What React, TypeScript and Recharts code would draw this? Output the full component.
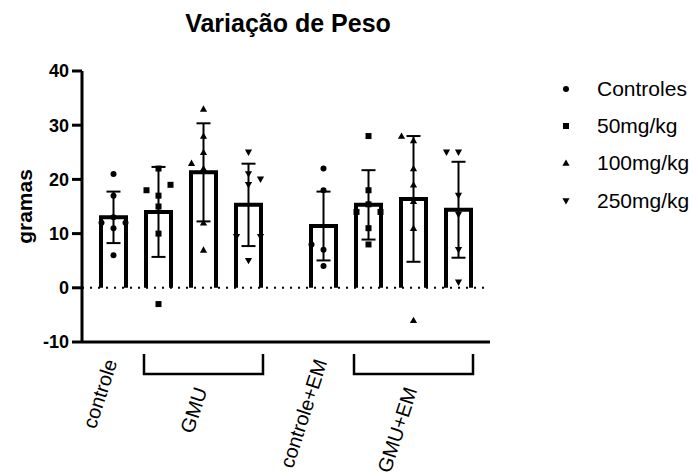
import React from 'react';
import {
  ComposedChart,
  Bar,
  Scatter,
  XAxis,
  YAxis,
  ErrorBar,
  ReferenceLine,
  Legend,
} from 'recharts';

// ---------- data ----------
const seriesNames = ['Controles', '50mg/kg', '100mg/kg', '250mg/kg'];
const groupLabels = ['controle', 'GMU', 'controle+EM', 'GMU+EM'];
const groupFirstBar = [0, 1, 4, 5];
const groupLastBar = [0, 3, 4, 7];

const barPositions = [0, 1, 2, 3, 4.667, 5.667, 6.667, 7.667];
const barSeries = [0, 1, 2, 3, 0, 1, 2, 3];
const barMeans = [13.0, 14.0, 21.3, 15.3, 11.4, 15.3, 16.4, 14.4];
const barSD = [4.75, 8.3, 9.05, 7.6, 6.35, 6.4, 11.6, 8.85];

// individual points per bar (values) and their side-by-side lane (-1 left, 0 centre, 1 right)
const pointValues = [
  [21, 17, 13, 12, 12, 11, 6],
  [22, 18, 19, 17, 15, 10, -3],
  [33, 28, 25, 23, 22, 12, 7],
  [25, 21, 20, 19, 9.4, 9.4, 5],
  [22, 18, 8, 7, 4],
  [28, 18, 15.4, 14, 14, 11, 8],
  [28, 27.2, 22, 19, 16, 11, -6],
  [25, 25, 17, 13.5, 7, 1],
];
const pointLanes = [
  [0, 0, 0, -1, 1, 0, 0],
  [0, -1, 1, 0, 0, 0, 0],
  [0, 0, 0, -1, 0, 0, 0],
  [0, 0, 1, 0, -1, 1, 0],
  [0, 0, -1, 0, 0],
  [0, 0, 0, -1, 1, 0, 0],
  [-1, 0, 0, 0, 0, 0, 0],
  [-1, 0, 0, 0, 0, 0],
];

const yTicks = [-10, 0, 10, 20, 30, 40];

// ---------- layout / style ----------
const W = 697;
const H = 473;
const M_TOP = 71;
const M_RIGHT = 207;
const Y_AXIS_W = 82;
const X_DOMAIN: [number, number] = [-0.7, 8.367];
const BAR_W = 25;
const LANE_PX = 12;
const FONT = '"Liberation Sans", Arial, Helvetica, sans-serif';

const barData = barPositions.map((pos, i) => ({
  pos,
  mean: barMeans[i],
  sd: barSD[i],
}));

const scatterData = seriesNames.map((_, s) => {
  const pts: { pos: number; value: number; lane: number }[] = [];
  barSeries.forEach((ser, b) => {
    if (ser !== s) return;
    pointValues[b].forEach((v, k) => {
      pts.push({ pos: barPositions[b], value: v, lane: pointLanes[b][k] });
    });
  });
  return pts;
});

const groupCenters = groupFirstBar.map(
  (f, g) => (barPositions[f] + barPositions[groupLastBar[g]]) / 2
);

const pxPerUnit = (W - M_RIGHT - Y_AXIS_W) / (X_DOMAIN[1] - X_DOMAIN[0]);

// ---------- markers ----------
const Marker = ({ kind, x, y }: { kind: number; x: number; y: number }) => {
  if (kind === 0) return <circle cx={x} cy={y} r={3} fill="#000" />;
  if (kind === 1) return <rect x={x - 3} y={y - 3} width={6} height={6} fill="#000" />;
  if (kind === 2)
    return <path d={`M${x},${y - 3.6} L${x + 3.6},${y + 2.8} L${x - 3.6},${y + 2.8} Z`} fill="#000" />;
  return <path d={`M${x},${y + 3.6} L${x + 3.6},${y - 2.8} L${x - 3.6},${y - 2.8} Z`} fill="#000" />;
};

const makeShape = (kind: number) => (props: any) => {
  const { cx, cy, payload } = props;
  if (cx == null || cy == null) return <g />;
  return <Marker kind={kind} x={cx + (payload?.lane ?? 0) * LANE_PX} y={cy} />;
};

const OpenBar = (props: any) => {
  const { x, y, width, height } = props;
  if (x == null) return <g />;
  const top = Math.min(y, y + height);
  const bottom = Math.max(y, y + height);
  return (
    <path
      d={`M${x},${bottom} L${x},${top} L${x + width},${top} L${x + width},${bottom}`}
      fill="none"
      stroke="#000"
      strokeWidth={4}
      strokeLinejoin="miter"
    />
  );
};

const GroupTick = (props: any) => {
  const { x, y, index } = props;
  const first = groupFirstBar[index];
  const last = groupLastBar[index];
  const bracket = last > first;
  const half = ((barPositions[last] - barPositions[first]) / 2) * pxPerUnit + BAR_W / 2 + 2;
  const ly = bracket ? y + 48 : y + 20;
  const lx = x + 4;
  return (
    <g>
      {bracket && (
        <path
          d={`M${x - half},${y + 12} L${x - half},${y + 32} L${x + half},${y + 32} L${x + half},${y + 12}`}
          fill="none"
          stroke="#000"
          strokeWidth={2.5}
        />
      )}
      <text
        x={lx}
        y={ly}
        textAnchor="end"
        transform={`rotate(-72 ${lx} ${ly})`}
        fontFamily={FONT}
        fontSize={20}
        fill="#000"
      >
        {groupLabels[index]}
      </text>
    </g>
  );
};

const YTick = (props: any) => {
  const { x, y, payload } = props;
  return (
    <text
      x={x}
      y={y}
      dy="0.36em"
      textAnchor="end"
      fontFamily={FONT}
      fontWeight="bold"
      fontSize={18}
      fill="#000"
    >
      {payload.value}
    </text>
  );
};

const LegendContent = () => (
  <div style={{ fontFamily: FONT, fontSize: 21, color: '#000' }}>
    {seriesNames.map((name, i) => (
      <div key={name} style={{ height: 37.3, display: 'flex', alignItems: 'center' }}>
        <svg width={20} height={20} style={{ marginLeft: 1, marginRight: 21 }}>
          <Marker kind={i} x={10} y={10} />
        </svg>
        <span>{name}</span>
      </div>
    ))}
  </div>
);

export default function App() {
  return (
    <div style={{ position: 'absolute', left: 0, top: 0, width: W, height: H, background: '#fff' }}>
      <div
        style={{
          position: 'absolute',
          left: 0,
          top: 9,
          width: 576,
          textAlign: 'center',
          fontFamily: FONT,
          fontWeight: 'bold',
          fontSize: 25,
          lineHeight: '29px',
          color: '#000',
        }}
      >
        Variação de Peso
      </div>
      <ComposedChart
        width={W}
        height={H}
        data={barData}
        margin={{ top: M_TOP, right: M_RIGHT, bottom: 0, left: 0 }}
      >
        <XAxis
          dataKey="pos"
          type="number"
          domain={X_DOMAIN}
          ticks={groupCenters}
          allowDataOverflow
          height={H - 342}
          axisLine={{ stroke: '#000', strokeWidth: 3 }}
          tickLine={false}
          tickSize={0}
          tickMargin={0}
          interval={0}
          tick={<GroupTick />}
        />
        <YAxis
          type="number"
          domain={[-10, 40]}
          ticks={yTicks}
          width={Y_AXIS_W}
          allowDataOverflow
          axisLine={{ stroke: '#000', strokeWidth: 3 }}
          tickLine={{ stroke: '#000', strokeWidth: 3 }}
          tickSize={10}
          tickMargin={3}
          tick={<YTick />}
          label={{
            content: (p: any) => {
              const vb = p.viewBox || {};
              const cy = (vb.y ?? M_TOP) + (vb.height ?? 271) / 2;
              return (
                <text
                  x={24}
                  y={cy}
                  textAnchor="middle"
                  dominantBaseline="central"
                  transform={`rotate(-90 24 ${cy})`}
                  fontFamily={FONT}
                  fontWeight="bold"
                  fontSize={21}
                  fill="#000"
                >
                  gramas
                </text>
              );
            },
          }}
        />
        <ReferenceLine y={0} stroke="#000" strokeWidth={2} strokeDasharray="2 6" />
        <Bar dataKey="mean" barSize={BAR_W} shape={<OpenBar />} isAnimationActive={false}>
          <ErrorBar dataKey="sd" width={7} strokeWidth={2} stroke="#000" direction="y" />
        </Bar>
        {seriesNames.map((name, s) => (
          <Scatter
            key={name}
            name={name}
            data={scatterData[s]}
            dataKey="value"
            shape={makeShape(s)}
            isAnimationActive={false}
          />
        ))}
        <Legend
          layout="vertical"
          align="center"
          verticalAlign="middle"
          wrapperStyle={{ left: 555, top: 70, width: 142, height: 150 }}
          content={<LegendContent />}
        />
      </ComposedChart>
    </div>
  );
}
